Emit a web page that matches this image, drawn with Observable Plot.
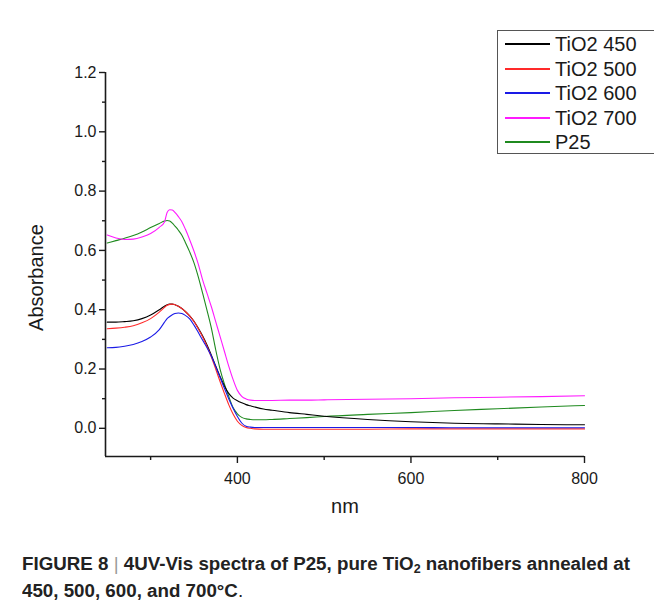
<!DOCTYPE html>
<html>
<head>
<meta charset="utf-8">
<script src="https://cdn.jsdelivr.net/npm/d3@7"></script>
<script src="https://cdn.jsdelivr.net/npm/@observablehq/plot@0.6"></script>
<style>
  html, body { margin: 0; padding: 0; background: #fff; }
  body { width: 654px; height: 602px; overflow: hidden; font-family: "Liberation Sans", Arial, sans-serif; }
  #wrap { position: relative; width: 654px; height: 602px; }
  #chart svg { display: block; }
  #legend { position: absolute; left: 497px; top: 30px; width: 175px; height: 124px; border: 1px solid #555; background: #fff; box-sizing: border-box; }
  #caption { position: absolute; left: 22px; top: 551px; font-size: 18px; line-height: 27px; font-weight: bold; color: #222; white-space: nowrap; }
  #caption .line { display: block; transform-origin: 0 0; width: max-content; }
  #caption .bar { font-weight: normal; color: #999; }
  #caption .reg { font-weight: normal; }
  #caption sub { font-size: 12px; vertical-align: -3px; line-height: 0; }
</style>
</head>
<body>
<div id="wrap">
  <div id="chart"></div>
  <div id="legend"></div>
  <div id="caption">
    <span class="line" id="cap1">FIGURE 8 <span class="bar">|</span> 4UV-Vis spectra of P25, pure TiO<sub>2</sub> nanofibers annealed at</span>
    <span class="line" id="cap2">450, 500, 600, and 700°C<span class="reg">.</span></span>
  </div>
</div>
<script>
// ---- Data ----
const seriesNames = ["TiO2 450", "TiO2 500", "TiO2 600", "TiO2 700", "P25"];
const seriesColors = ["#000000", "#ff2a2a", "#1a1ae6", "#ff1aff", "#1f8a1f"];

const wavelength = [250, 260, 270, 280, 290, 300, 310, 316, 319, 322, 325, 328, 332, 336, 340, 345, 350, 355, 360, 365, 370, 375, 380, 385, 390, 395, 400, 405, 410, 415, 420, 430, 440, 460, 480, 500, 550, 600, 650, 700, 750, 800];

const absTiO2_450 = [0.358, 0.358, 0.360, 0.363, 0.370, 0.382, 0.400, 0.412, 0.417, 0.419, 0.419, 0.417, 0.412, 0.404, 0.394, 0.379, 0.361, 0.337, 0.311, 0.281, 0.247, 0.210, 0.175, 0.143, 0.118, 0.102, 0.093, 0.086, 0.080, 0.076, 0.072, 0.065, 0.061, 0.053, 0.047, 0.041, 0.030, 0.022, 0.017, 0.015, 0.013, 0.012];
const absTiO2_500 = [0.336, 0.338, 0.341, 0.346, 0.356, 0.370, 0.392, 0.408, 0.415, 0.418, 0.419, 0.417, 0.412, 0.404, 0.394, 0.379, 0.360, 0.336, 0.308, 0.276, 0.240, 0.200, 0.158, 0.118, 0.080, 0.048, 0.024, 0.010, 0.003, 0.000, -0.002, -0.003, -0.003, -0.003, -0.003, -0.003, -0.003, -0.002, -0.002, -0.002, -0.002, -0.002];
const absTiO2_600 = [0.272, 0.273, 0.277, 0.283, 0.293, 0.308, 0.333, 0.358, 0.370, 0.377, 0.383, 0.387, 0.389, 0.387, 0.381, 0.369, 0.348, 0.323, 0.297, 0.272, 0.243, 0.208, 0.172, 0.135, 0.100, 0.068, 0.040, 0.018, 0.007, 0.004, 0.003, 0.003, 0.003, 0.003, 0.003, 0.003, 0.003, 0.003, 0.002, 0.002, 0.002, 0.002];
const absTiO2_700 = [0.652, 0.642, 0.637, 0.638, 0.645, 0.657, 0.678, 0.696, 0.728, 0.737, 0.736, 0.728, 0.714, 0.697, 0.672, 0.636, 0.597, 0.553, 0.500, 0.455, 0.410, 0.360, 0.310, 0.260, 0.210, 0.165, 0.128, 0.108, 0.099, 0.095, 0.094, 0.094, 0.094, 0.095, 0.095, 0.096, 0.098, 0.100, 0.103, 0.105, 0.107, 0.110];
const absP25 = [0.625, 0.633, 0.641, 0.650, 0.662, 0.677, 0.691, 0.699, 0.701, 0.699, 0.692, 0.682, 0.668, 0.651, 0.627, 0.595, 0.558, 0.510, 0.455, 0.398, 0.338, 0.265, 0.200, 0.150, 0.108, 0.070, 0.049, 0.037, 0.032, 0.030, 0.029, 0.029, 0.030, 0.033, 0.036, 0.040, 0.047, 0.053, 0.060, 0.066, 0.072, 0.077];

const xMajorTicks = [400, 600, 800];
const xMinorTicks = [300, 500, 700];
const yMajorTicks = [0, 0.2, 0.4, 0.6, 0.8, 1.0, 1.2];
const yMinorTicks = [0.1, 0.3, 0.5, 0.7, 0.9, 1.1];
const xLabel = "nm";
const yLabel = "Absorbance";

// ---- Build table ----
const seriesValues = [absTiO2_450, absTiO2_500, absTiO2_600, absTiO2_700, absP25];
const drawOrder = [4, 3, 0, 1, 2];
const rows = [];
drawOrder.forEach(i => {
  wavelength.forEach((w, j) => rows.push({series: seriesNames[i], nm: w, a: seriesValues[i][j]}));
});

const font = "'Liberation Sans', Arial, sans-serif";
const xDomain = [248, 800];
const yDomain = [-0.095, 1.2];

const plot = Plot.plot({
  width: 654,
  height: 530,
  marginLeft: 105,
  marginRight: 70,
  marginTop: 72,
  marginBottom: 74,
  x: {domain: xDomain},
  y: {domain: yDomain},
  color: {domain: seriesNames, range: seriesColors},
  style: {fontFamily: font, fontSize: "16px", color: "#1a1a1a", background: "#fff"},
  marks: [
    Plot.lineY(rows, {x: "nm", y: "a", z: "series", stroke: "series", strokeWidth: 1.1, curve: "monotone-x"}),
    Plot.axisX({ticks: xMajorTicks, tickSize: 7, tickPadding: 9, fontSize: 16, label: null, strokeWidth: 1.4, stroke: "#1a1a1a"}),
    Plot.axisX({ticks: xMinorTicks, tickSize: 4, tickFormat: () => "", label: null, strokeWidth: 1.4, stroke: "#1a1a1a"}),
    Plot.axisY({ticks: yMajorTicks, tickSize: 6, tickPadding: 3, fontSize: 16, tickFormat: d3.format(".1f"), label: null, strokeWidth: 1.4, stroke: "#1a1a1a"}),
    Plot.axisY({ticks: yMinorTicks, tickSize: 3, tickFormat: () => "", label: null, strokeWidth: 1.4, stroke: "#1a1a1a"}),
    Plot.ruleX([xDomain[0]], {stroke: "#1a1a1a", strokeWidth: 1.6}),
    Plot.ruleY([yDomain[0]], {stroke: "#1a1a1a", strokeWidth: 1.6}),
    Plot.text([xLabel], {frameAnchor: "bottom", dy: 56, fontSize: 20, fill: "#1a1a1a"}),
    Plot.text([yLabel], {frameAnchor: "left", textAnchor: "middle", rotate: -90, dx: -69, dy: 13, fontSize: 20, fill: "#1a1a1a"})
  ]
});
document.getElementById("chart").appendChild(plot);

// ---- Legend ----
const legend = d3.select("#legend");
const lsvg = legend.append("svg").attr("width", 175).attr("height", 124).style("display", "block");
seriesNames.forEach((name, i) => {
  const cy = Math.round(13 + i * 24.5);
  lsvg.append("line").attr("x1", 7).attr("x2", 52).attr("y1", cy).attr("y2", cy)
    .attr("stroke", seriesColors[i]).attr("stroke-width", 1.8);
  lsvg.append("text").attr("x", 57).attr("y", cy).attr("dy", "0.35em")
    .attr("font-family", font).attr("font-size", 20).attr("fill", "#1a1a1a").text(name);
});

// ---- Caption width fit ----
const cap1 = document.getElementById("cap1");
const cap2 = document.getElementById("cap2");
const w1 = cap1.getBoundingClientRect().width;
const s = 608 / w1;
cap1.style.transform = `scaleX(${s})`;
cap2.style.transform = `scaleX(${s})`;
</script>
</body>
</html>
